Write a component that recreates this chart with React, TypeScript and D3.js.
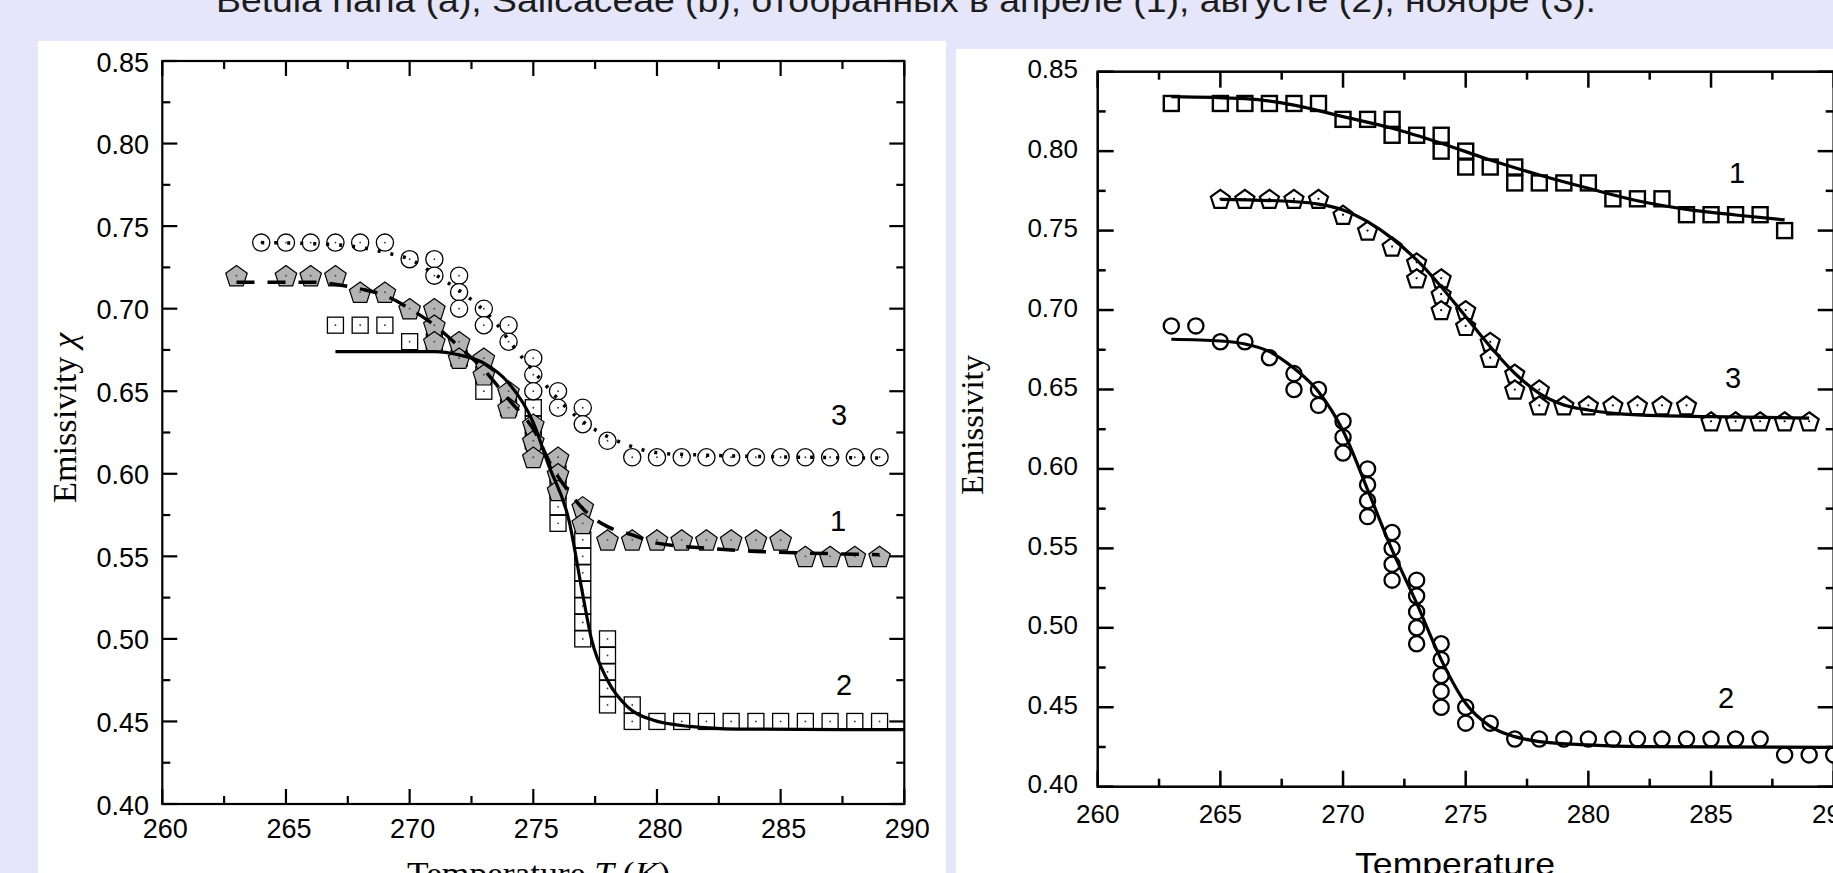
import React from "react";
import * as d3 from "d3";

const W = 1833;
const H = 873;

type Pt = [number, number];

const titleText =
  "Betula nana (a), Salicaceae (b), отобранных в апреле (1), августе (2), ноябре (3).";

// ---------- shared axis data ----------
const xMajorTicks = [260, 265, 270, 275, 280, 285, 290];
const xMinorTicks = [262.5, 267.5, 272.5, 277.5, 282.5, 287.5];
const yMajorTicks = [0.4, 0.45, 0.5, 0.55, 0.6, 0.65, 0.7, 0.75, 0.8, 0.85];
const yMinorTicks = [0.425, 0.475, 0.525, 0.575, 0.625, 0.675, 0.725, 0.775, 0.825];
const xTickLabels = ["260", "265", "270", "275", "280", "285", "290"];
const yTickLabels = ["0.40", "0.45", "0.50", "0.55", "0.60", "0.65", "0.70", "0.75", "0.80", "0.85"];

// ---------- panel (a) data ----------
// curve 1 : grey pentagons
const a1Points: Pt[] = [
  [263, 0.72], [265, 0.72], [266, 0.72], [267, 0.72], [268, 0.71], [269, 0.71],
  [270, 0.7], [271, 0.7], [271, 0.69], [271, 0.68], [272, 0.68], [272, 0.67],
  [273, 0.67], [273, 0.66], [274, 0.65], [274, 0.64], [275, 0.63], [275, 0.62],
  [275, 0.61], [276, 0.61], [276, 0.6], [276, 0.59], [277, 0.58], [277, 0.57],
  [278, 0.56], [279, 0.56], [280, 0.56], [281, 0.56], [282, 0.56], [283, 0.56],
  [284, 0.56], [285, 0.56], [286, 0.55], [287, 0.55], [288, 0.55], [289, 0.55],
];
const a1Fit: Pt[] = [
  [263, 0.716], [266, 0.716], [268, 0.712], [269, 0.708], [270, 0.7], [271, 0.69],
  [272, 0.677], [273, 0.663], [274, 0.645], [275, 0.627], [275.8, 0.603], [276.2, 0.594],
  [277.2, 0.576], [278, 0.568], [279, 0.563], [280, 0.558], [282, 0.555], [284, 0.553],
  [286, 0.552], [289, 0.551],
];
// curve 2 : open squares
const a2Points: Pt[] = [
  [267, 0.69], [268, 0.69], [269, 0.69], [270, 0.68], [271, 0.68], [272, 0.67],
  [273, 0.66], [273, 0.65], [274, 0.64], [275, 0.64], [275, 0.63], [275, 0.62],
  [276, 0.6], [276, 0.59], [276, 0.58], [276, 0.57],
  [277, 0.56], [277, 0.55], [277, 0.54], [277, 0.53], [277, 0.52], [277, 0.51], [277, 0.5],
  [278, 0.5], [278, 0.49], [278, 0.48], [278, 0.47], [278, 0.46],
  [279, 0.46], [279, 0.45], [280, 0.45], [281, 0.45], [282, 0.45], [283, 0.45],
  [284, 0.45], [285, 0.45], [286, 0.45], [287, 0.45], [288, 0.45], [289, 0.45],
];
const a2Fit: Pt[] = [
  [267, 0.674], [271, 0.674], [272, 0.672], [273, 0.667], [274, 0.655], [275, 0.631],
  [275.6, 0.606], [276.47, 0.57], [276.96, 0.53], [277.35, 0.5], [278, 0.475],
  [278.8, 0.459], [279.8, 0.451], [281.3, 0.447], [283.3, 0.4454], [290, 0.445],
];
// curve 3 : open circles
const a3Points: Pt[] = [
  [264, 0.74], [265, 0.74], [266, 0.74], [267, 0.74], [268, 0.74], [269, 0.74],
  [270, 0.73], [271, 0.73], [271, 0.72], [272, 0.72], [272, 0.71], [272, 0.7],
  [273, 0.7], [273, 0.69], [274, 0.69], [274, 0.68], [275, 0.67], [275, 0.66],
  [275, 0.65], [276, 0.65], [276, 0.64], [277, 0.64], [277, 0.63], [278, 0.62],
  [279, 0.61], [280, 0.61], [281, 0.61], [282, 0.61], [283, 0.61], [284, 0.61],
  [285, 0.61], [286, 0.61], [287, 0.61], [288, 0.61], [289, 0.61],
];
const a3Fit: Pt[] = [
  [264, 0.74], [266.7, 0.739], [268.2, 0.7366], [269, 0.734], [270, 0.73], [271, 0.721],
  [272, 0.711], [272.8, 0.7016], [273.6, 0.6893], [274, 0.681], [275.5, 0.6537],
  [276.3, 0.6406], [277.2, 0.6295], [278, 0.6226], [278.8, 0.6175], [279.7, 0.6135],
  [280.6, 0.612], [289, 0.6095],
];

// ---------- panel (b) data ----------
const b1Points: Pt[] = [
  [263, 0.83], [265, 0.83], [266, 0.83], [267, 0.83], [268, 0.83], [269, 0.83],
  [270, 0.82], [271, 0.82], [272, 0.82], [272, 0.81], [273, 0.81], [274, 0.81],
  [274, 0.8], [275, 0.8], [275, 0.79], [276, 0.79], [277, 0.79], [277, 0.78],
  [278, 0.78], [279, 0.78], [280, 0.78], [281, 0.77], [282, 0.77], [283, 0.77],
  [284, 0.76], [285, 0.76], [286, 0.76], [287, 0.76], [288, 0.75],
];
const b1Fit: Pt[] = [
  [263, 0.8343], [266, 0.833], [268, 0.829], [270, 0.8217], [272, 0.8144], [274, 0.805],
  [276, 0.7944], [278, 0.785], [280, 0.7766], [282, 0.7688], [284, 0.7634],
  [286, 0.7598], [288, 0.7567],
];
const b2Points: Pt[] = [
  [263, 0.69], [264, 0.69], [265, 0.68], [266, 0.68], [267, 0.67], [268, 0.66],
  [268, 0.65], [269, 0.65], [269, 0.64], [270, 0.63], [270, 0.62], [270, 0.61],
  [271, 0.6], [271, 0.59], [271, 0.58], [271, 0.57],
  [272, 0.56], [272, 0.55], [272, 0.54], [272, 0.53],
  [273, 0.53], [273, 0.52], [273, 0.51], [273, 0.5], [273, 0.49],
  [274, 0.49], [274, 0.48], [274, 0.47], [274, 0.46], [274, 0.45],
  [275, 0.45], [275, 0.44], [276, 0.44],
  [277, 0.43], [278, 0.43], [279, 0.43], [280, 0.43], [281, 0.43], [282, 0.43],
  [283, 0.43], [284, 0.43], [285, 0.43], [286, 0.43], [287, 0.43],
  [288, 0.42], [289, 0.42], [290, 0.42],
];
const b2Fit: Pt[] = [
  [263, 0.6816], [265, 0.6805], [266, 0.6786], [267, 0.6738], [268, 0.6633], [269, 0.6486],
  [270, 0.624], [271, 0.587], [272, 0.549], [273, 0.5155], [274, 0.48], [275, 0.4525],
  [276, 0.438], [277, 0.4315], [278, 0.4284], [280, 0.4263], [282, 0.4252], [290, 0.4248],
];
const b3Points: Pt[] = [
  [265, 0.77], [266, 0.77], [267, 0.77], [268, 0.77], [269, 0.77], [270, 0.76],
  [271, 0.75], [272, 0.74], [273, 0.73], [273, 0.72], [274, 0.72], [274, 0.71],
  [274, 0.7], [275, 0.7], [275, 0.69], [276, 0.68], [276, 0.67], [277, 0.66],
  [277, 0.65], [278, 0.65], [278, 0.64], [279, 0.64], [280, 0.64], [281, 0.64],
  [282, 0.64], [283, 0.64], [284, 0.64], [285, 0.63], [286, 0.63], [287, 0.63],
  [288, 0.63], [289, 0.63],
];
const b3Fit: Pt[] = [
  [265, 0.7697], [268, 0.7682], [269, 0.7667], [270, 0.763], [271, 0.7556], [272, 0.7451],
  [273, 0.7315], [274, 0.7147], [275, 0.6958], [276, 0.677], [277, 0.6602], [278, 0.6476],
  [279, 0.6403], [280, 0.6371], [282, 0.634], [285, 0.6329], [289, 0.632],
];

const SANS = "'Liberation Sans', Arial, Helvetica, sans-serif";
const SERIF = "'Liberation Serif', 'Times New Roman', serif";

function pentagon(cx: number, cy: number, r: number) {
  const pts: string[] = [];
  for (let k = 0; k < 5; k++) {
    const a = (-90 + k * 72) * (Math.PI / 180);
    pts.push(`${(cx + r * Math.cos(a)).toFixed(2)},${(cy + r * Math.sin(a) + r * 0.1).toFixed(2)}`);
  }
  return pts.join(" ");
}

type Frame = { x0: number; x1: number; y0: number; y1: number };

function Axes({
  f,
  fontSize,
  sw,
  majorLen,
  minorLen,
  xLabelY,
  xLabelDx,
  yLabelX,
  yLabelDy,
}: {
  f: Frame;
  fontSize: number;
  sw: number;
  majorLen: number;
  minorLen: number;
  xLabelY: number;
  xLabelDx: number;
  yLabelX: number;
  yLabelDy: number;
}) {
  const x = d3.scaleLinear().domain([260, 290]).range([f.x0, f.x1]);
  const y = d3.scaleLinear().domain([0.4, 0.85]).range([f.y1, f.y0]);
  const lines: JSX.Element[] = [];
  const tick = (key: string, x1: number, y1: number, x2: number, y2: number) =>
    lines.push(<line key={key} x1={x1} y1={y1} x2={x2} y2={y2} stroke="#000" strokeWidth={sw} />);
  xMajorTicks.forEach((t, i) => {
    tick(`xb${i}`, x(t), f.y1, x(t), f.y1 - majorLen);
    tick(`xt${i}`, x(t), f.y0, x(t), f.y0 + majorLen);
  });
  xMinorTicks.forEach((t, i) => {
    tick(`xbm${i}`, x(t), f.y1, x(t), f.y1 - minorLen);
    tick(`xtm${i}`, x(t), f.y0, x(t), f.y0 + minorLen);
  });
  yMajorTicks.forEach((t, i) => {
    tick(`yl${i}`, f.x0, y(t), f.x0 + majorLen, y(t));
    tick(`yr${i}`, f.x1, y(t), f.x1 - majorLen, y(t));
  });
  yMinorTicks.forEach((t, i) => {
    tick(`ylm${i}`, f.x0, y(t), f.x0 + minorLen, y(t));
    tick(`yrm${i}`, f.x1, y(t), f.x1 - minorLen, y(t));
  });
  return (
    <g>
      <rect x={f.x0} y={f.y0} width={f.x1 - f.x0} height={f.y1 - f.y0} fill="none" stroke="#000" strokeWidth={sw} />
      {lines}
      {xMajorTicks.map((t, i) => (
        <text key={`xl${i}`} x={x(t) + xLabelDx} y={xLabelY} textAnchor="middle" fontSize={fontSize} fontFamily={SANS} fill="#000">
          {xTickLabels[i]}
        </text>
      ))}
      {yMajorTicks.map((t, i) => (
        <text key={`yl${i}`} x={yLabelX} y={y(t) + yLabelDy} textAnchor="end" fontSize={fontSize} fontFamily={SANS} fill="#000">
          {yTickLabels[i]}
        </text>
      ))}
    </g>
  );
}

function PanelA() {
  const f: Frame = { x0: 162.3, x1: 904.3, y0: 61, y1: 804 };
  const x = d3.scaleLinear().domain([260, 290]).range([f.x0, f.x1]);
  const y = d3.scaleLinear().domain([0.4, 0.85]).range([f.y1, f.y0]);
  const line = d3
    .line<Pt>()
    .x((d) => x(d[0]))
    .y((d) => y(d[1]))
    .curve(d3.curveMonotoneX);
  const sq = 16;
  return (
    <g>
      <Axes f={f} fontSize={27} sw={2.2} majorLen={15} minorLen={8} xLabelY={838} xLabelDx={3} yLabelX={149} yLabelDy={10.5} />
      {a2Points.map((d, i) => (
        <g key={`a2${i}`}>
          <rect x={x(d[0]) - sq / 2} y={y(d[1]) - sq / 2} width={sq} height={sq} fill="#fff" stroke="#000" strokeWidth={1.3} />
          <circle cx={x(d[0])} cy={y(d[1])} r={0.9} fill="#333" />
        </g>
      ))}
      {a3Points.map((d, i) => (
        <g key={`a3${i}`}>
          <circle cx={x(d[0])} cy={y(d[1])} r={8.6} fill="#fff" stroke="#000" strokeWidth={1.3} />
          <circle cx={x(d[0])} cy={y(d[1])} r={0.9} fill="#333" />
        </g>
      ))}
      {a1Points.map((d, i) => (
        <g key={`a1${i}`}>
          <polygon points={pentagon(x(d[0]), y(d[1]), 11.3)} fill="#b3b3b3" stroke="#000" strokeWidth={1.2} />
          <circle cx={x(d[0])} cy={y(d[1])} r={0.9} fill="#444" />
        </g>
      ))}
      <path d={line(a2Fit) || ""} fill="none" stroke="#000" strokeWidth={3.2} />
      <path d={line(a1Fit) || ""} fill="none" stroke="#000" strokeWidth={3.5} strokeDasharray="18,13" />
      <path d={line(a3Fit) || ""} fill="none" stroke="#000" strokeWidth={3.5} strokeDasharray="3,10" />
      <text x={839} y={425} textAnchor="middle" fontSize={29} fontFamily={SANS}>3</text>
      <text x={838} y={531} textAnchor="middle" fontSize={29} fontFamily={SANS}>1</text>
      <text x={844} y={695} textAnchor="middle" fontSize={29} fontFamily={SANS}>2</text>
      <text
        transform={`translate(76,418) rotate(-90)`}
        textAnchor="middle"
        fontSize={33}
        fontFamily={SERIF}
        textLength={170}
        lengthAdjust="spacingAndGlyphs"
      >
        Emissivity <tspan fontStyle="italic">χ</tspan>
      </text>
      <text x={538.5} y={885} textAnchor="middle" fontSize={33} fontFamily={SERIF} textLength={263} lengthAdjust="spacingAndGlyphs">
        Temperature <tspan fontStyle="italic">T</tspan> (<tspan fontStyle="italic">K</tspan>)
      </text>
    </g>
  );
}

function PanelB() {
  const f: Frame = { x0: 1097.7, x1: 1833.7, y0: 71.7, y1: 786.7 };
  const x = d3.scaleLinear().domain([260, 290]).range([f.x0, f.x1]);
  const y = d3.scaleLinear().domain([0.4, 0.85]).range([f.y1, f.y0]);
  const line = d3
    .line<Pt>()
    .x((d) => x(d[0]))
    .y((d) => y(d[1]))
    .curve(d3.curveMonotoneX);
  const sq = 15;
  return (
    <g>
      <Axes f={f} fontSize={26} sw={2.5} majorLen={16} minorLen={8} xLabelY={823} xLabelDx={0} yLabelX={1078} yLabelDy={6.5} />
      {b1Points.map((d, i) => (
        <rect key={`b1${i}`} x={x(d[0]) - sq / 2} y={y(d[1]) - sq / 2} width={sq} height={sq} fill="#fff" stroke="#000" strokeWidth={2.4} />
      ))}
      {b3Points.map((d, i) => (
        <g key={`b3${i}`}>
          <polygon points={pentagon(x(d[0]), y(d[1]), 10)} fill="#fff" stroke="#000" strokeWidth={2.2} />
          <circle cx={x(d[0])} cy={y(d[1])} r={1.1} fill="#000" />
        </g>
      ))}
      {b2Points.map((d, i) => (
        <circle key={`b2${i}`} cx={x(d[0])} cy={y(d[1])} r={7.6} fill="#fff" stroke="#000" strokeWidth={2.3} />
      ))}
      <path d={line(b1Fit) || ""} fill="none" stroke="#000" strokeWidth={3.2} />
      <path d={line(b3Fit) || ""} fill="none" stroke="#000" strokeWidth={3.2} />
      <path d={line(b2Fit) || ""} fill="none" stroke="#000" strokeWidth={3.2} />
      <text x={1737} y={183} textAnchor="middle" fontSize={29} fontFamily={SANS}>1</text>
      <text x={1733} y={388} textAnchor="middle" fontSize={29} fontFamily={SANS}>3</text>
      <text x={1726} y={708} textAnchor="middle" fontSize={29} fontFamily={SANS}>2</text>
      <text
        transform={`translate(983,425) rotate(-90)`}
        textAnchor="middle"
        fontSize={32}
        fontFamily={SERIF}
        textLength={140}
        lengthAdjust="spacingAndGlyphs"
      >
        Emissivity
      </text>
      <text x={1455} y={875} textAnchor="middle" fontSize={32} fontFamily={SANS} textLength={200} lengthAdjust="spacingAndGlyphs">
        Temperature
      </text>
    </g>
  );
}

export default function App() {
  return (
    <svg
      width={W}
      height={H}
      viewBox={`0 0 ${W} ${H}`}
      style={{ position: "absolute", left: 0, top: 0, display: "block" }}
    >
      <rect x={0} y={0} width={W} height={H} fill="#e6e6fa" />
      <text x={216} y={11.5} fontSize={34} fontFamily={SANS} fill="#1c1c1c" textLength={1380} lengthAdjust="spacingAndGlyphs">
        {titleText}
      </text>
      <rect x={38} y={41} width={908} height={H - 41} fill="#fff" />
      <rect x={956} y={49} width={W - 956} height={H - 49} fill="#fff" />
      <PanelA />
      <PanelB />
    </svg>
  );
}
